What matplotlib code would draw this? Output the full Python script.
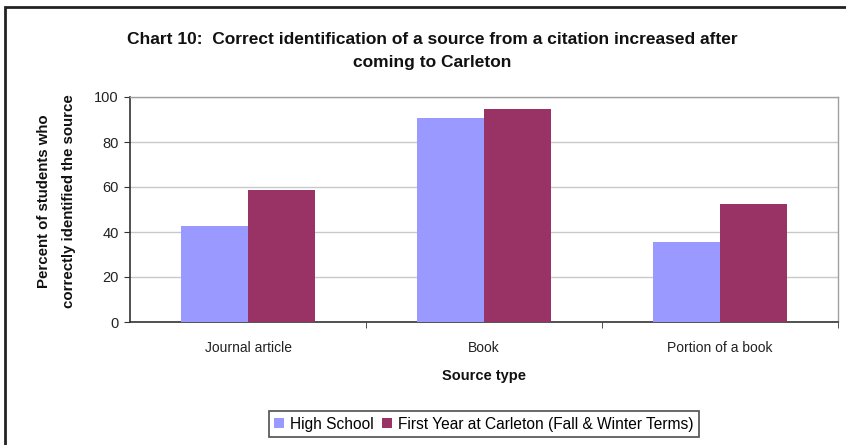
import matplotlib
matplotlib.use("Agg")
import matplotlib.pyplot as plt
import numpy as np
from matplotlib.patches import Rectangle

categories = ["Journal article", "Book", "Portion of a book"]
high_school = [42.5, 90.5, 35.5]
first_year = [58.5, 94.5, 52.5]
series_names = ["High School", "First Year at Carleton (Fall & Winter Terms)"]
yticks = [0, 20, 40, 60, 80, 100]

plt.rcParams["font.family"] = ["Liberation Sans", "DejaVu Sans"]

fig = plt.figure(figsize=(8.46, 4.45), dpi=100)
fig.patch.set_facecolor("white")

# outer chart frame
fig.add_artist(Rectangle((5 / 846, -0.05), 1.2, 1.05 - 7 / 445, transform=fig.transFigure,
                         fill=False, edgecolor="#222222", linewidth=2.0))

ax = fig.add_axes([130 / 846, (445 - 322) / 445, (838 - 130) / 846, (322 - 97) / 445])
x = np.arange(len(categories))
w = 1 / 3.5
ax.bar(x - w / 2, high_school, w, color="#9999FF", label=series_names[0], zorder=3)
ax.bar(x + w / 2, first_year, w, color="#993366", label=series_names[1], zorder=3)

ax.set_xlim(-0.5, len(categories) - 0.5)
ax.set_ylim(0, 100)
ax.set_yticks(yticks)
ax.yaxis.grid(True, color="#c8c8c8", linewidth=1.0, zorder=0)
ax.set_axisbelow(True)

ax.set_xticks(x)
ax.set_xticklabels(categories, fontsize=10, color="#222222")
ax.tick_params(axis="x", length=0, pad=14)
ax.set_xticks([0.5, 1.5, 2.5], minor=True)
ax.tick_params(axis="x", which="minor", length=4, direction="out", color="#333333")
ax.tick_params(axis="y", length=4, direction="out", color="#333333", labelsize=10.5,
               labelcolor="#222222", pad=4)

for side in ["top", "right"]:
    ax.spines[side].set_color("#a0a0a0")
    ax.spines[side].set_linewidth(1.0)
for side in ["left", "bottom"]:
    ax.spines[side].set_color("#333333")
    ax.spines[side].set_linewidth(1.2)

ax.set_xlabel("Source type", fontsize=10.5, fontweight="bold", labelpad=10, color="#111111")
fig.text(56 / 846, 1 - 201 / 445, "Percent of students who\ncorrectly identified the source",
         rotation=90, ha="center", va="center", fontsize=10.8, fontweight="bold",
         linespacing=2.0, color="#111111")

fig.text(432 / 846, 1 - 51 / 445,
         "Chart 10:  Correct identification of a source from a citation increased after\ncoming to Carleton",
         ha="center", va="center", fontsize=12.5, fontweight="bold",
         linespacing=1.6, color="#111111")

leg = ax.legend(loc="center", bbox_to_anchor=(484 / 846, 1 - 424 / 445),
                bbox_transform=fig.transFigure, ncol=2, fontsize=11.2, frameon=True,
                fancybox=False, handlelength=0.65, handleheight=0.65, handletextpad=0.4,
                columnspacing=0.5, borderpad=0.35)
leg.get_frame().set_edgecolor("#222222")
leg.get_frame().set_linewidth(1.2)

fig.savefig("out.png", dpi=100, facecolor="white")
